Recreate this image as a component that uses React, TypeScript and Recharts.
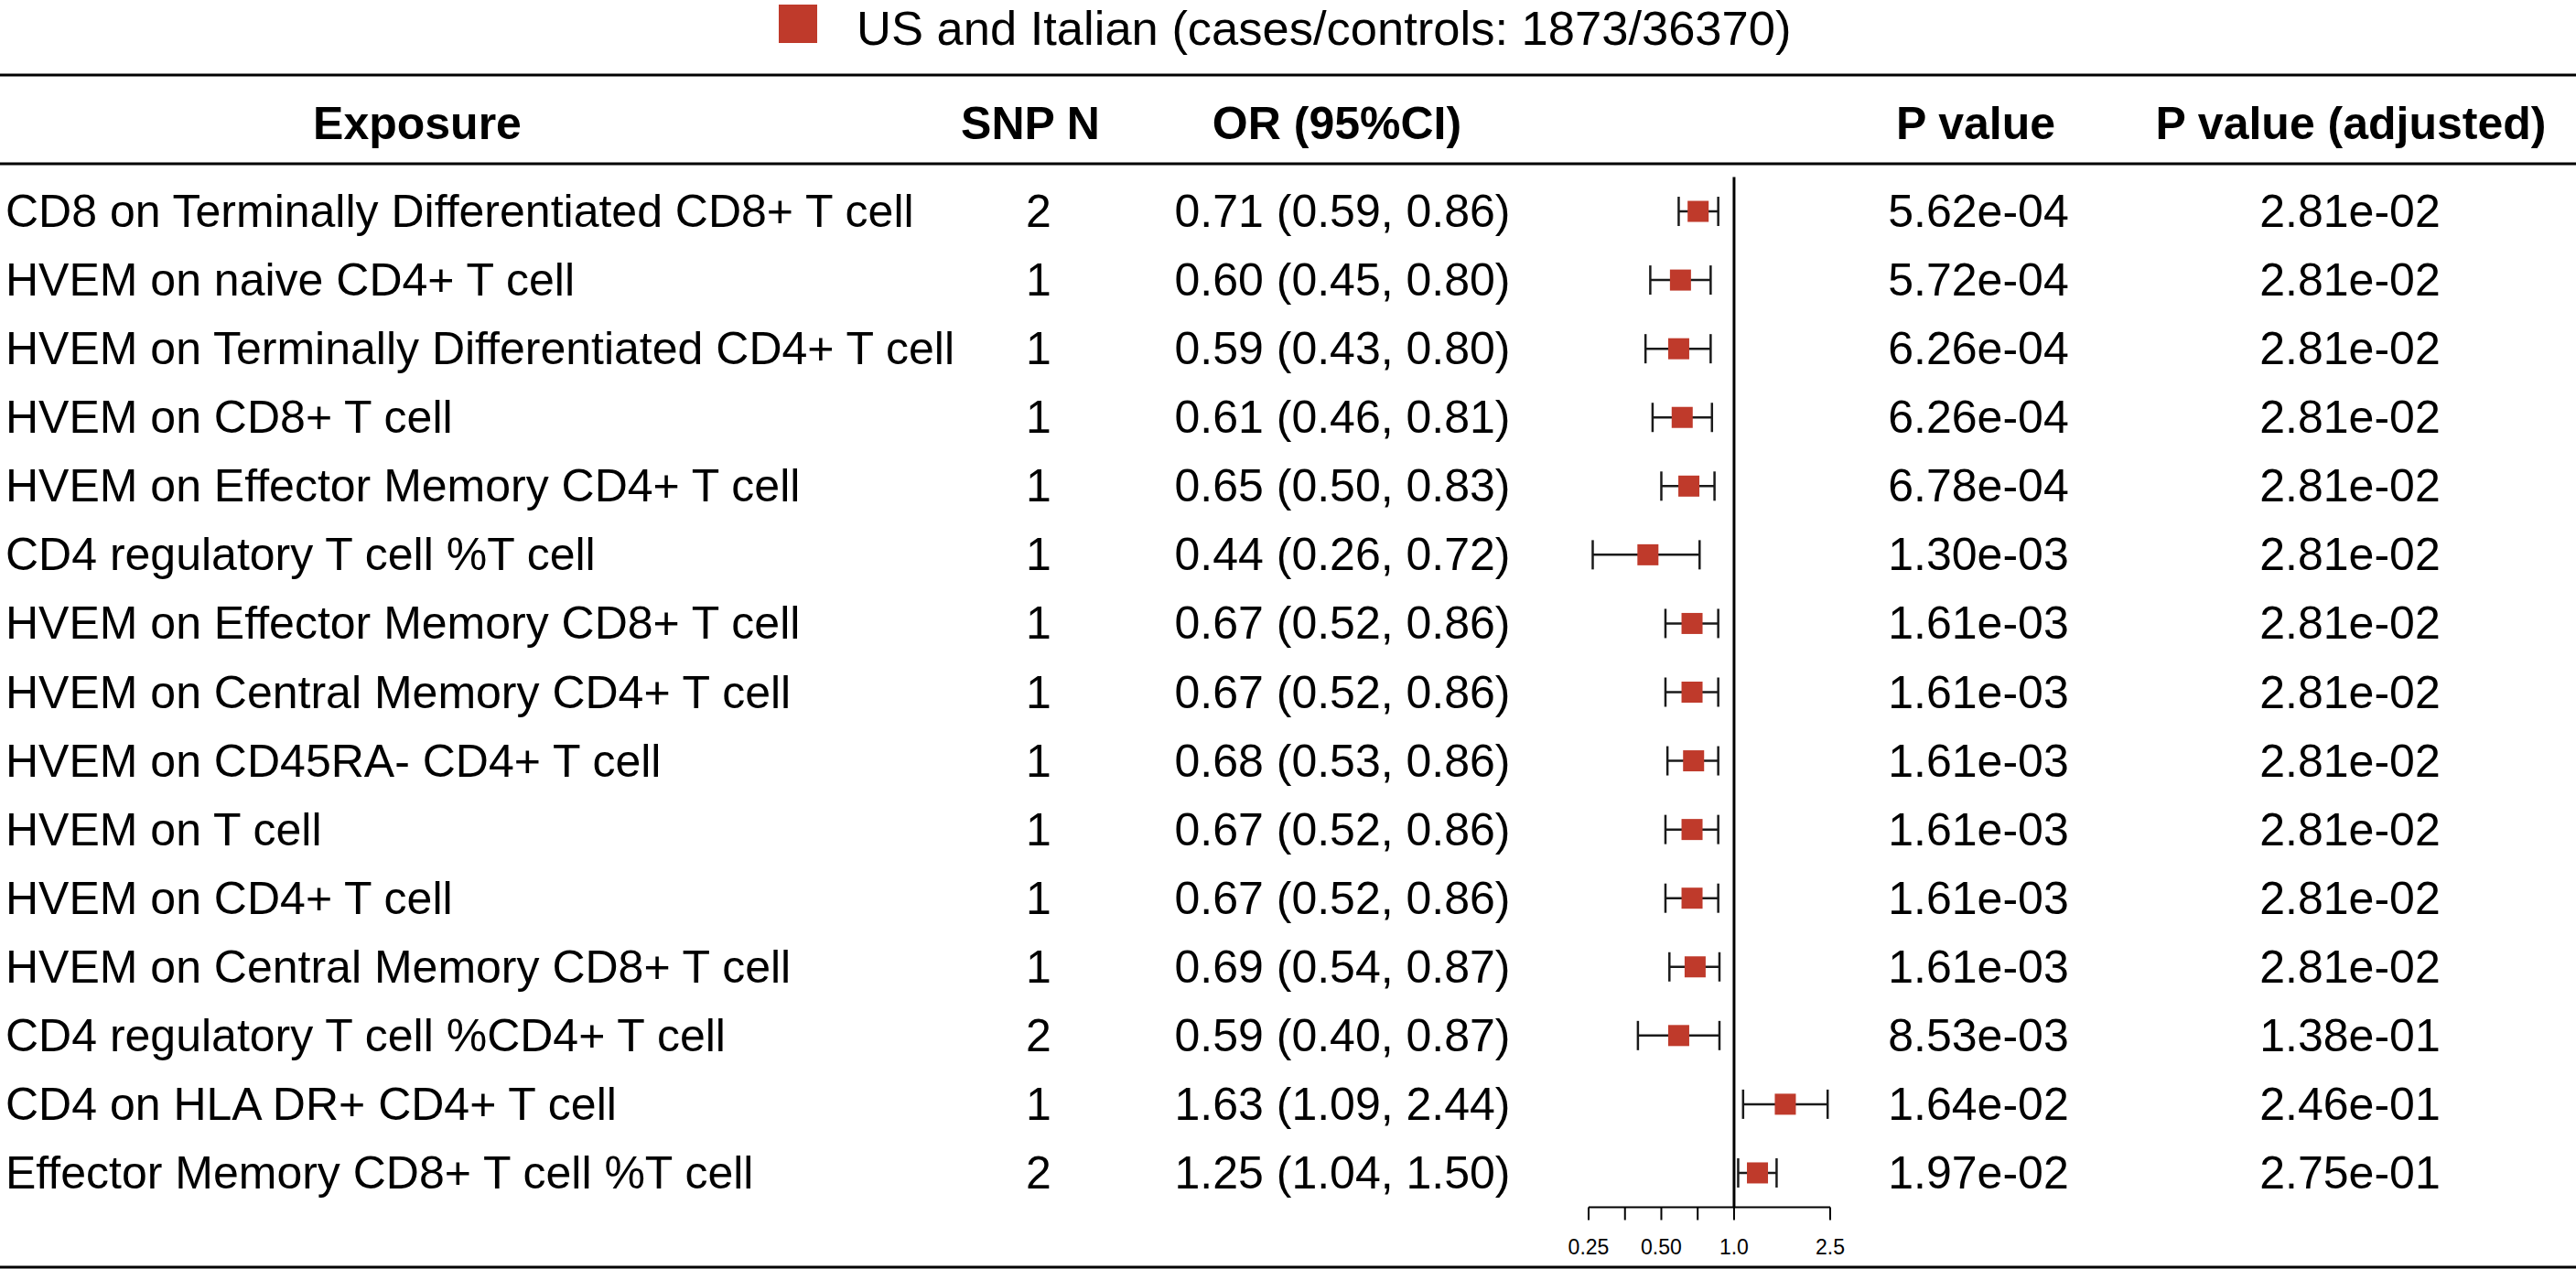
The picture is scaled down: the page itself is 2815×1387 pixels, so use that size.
import React from "react"
import {
  ScatterChart,
  Scatter,
  XAxis,
  YAxis,
  ErrorBar,
  ReferenceLine,
  Customized,
} from "recharts"

// Table rows (top to bottom)
const exposures = [
  "CD8 on Terminally Differentiated CD8+ T cell",
  "HVEM on naive CD4+ T cell",
  "HVEM on Terminally Differentiated CD4+ T cell",
  "HVEM on CD8+ T cell",
  "HVEM on Effector Memory CD4+ T cell",
  "CD4 regulatory T cell %T cell",
  "HVEM on Effector Memory CD8+ T cell",
  "HVEM on Central Memory CD4+ T cell",
  "HVEM on CD45RA- CD4+ T cell",
  "HVEM on T cell",
  "HVEM on CD4+ T cell",
  "HVEM on Central Memory CD8+ T cell",
  "CD4 regulatory T cell %CD4+ T cell",
  "CD4 on HLA DR+ CD4+ T cell",
  "Effector Memory CD8+ T cell %T cell",
]
const snpN = [2, 1, 1, 1, 1, 1, 1, 1, 1, 1, 1, 1, 2, 1, 2]
const orValues = [0.71, 0.6, 0.59, 0.61, 0.65, 0.44, 0.67, 0.67, 0.68, 0.67, 0.67, 0.69, 0.59, 1.63, 1.25]
const ciLow = [0.59, 0.45, 0.43, 0.46, 0.5, 0.26, 0.52, 0.52, 0.53, 0.52, 0.52, 0.54, 0.4, 1.09, 1.04]
const ciHigh = [0.86, 0.8, 0.8, 0.81, 0.83, 0.72, 0.86, 0.86, 0.86, 0.86, 0.86, 0.87, 0.87, 2.44, 1.5]
const pValues = [
  "5.62e-04", "5.72e-04", "6.26e-04", "6.26e-04", "6.78e-04", "1.30e-03", "1.61e-03", "1.61e-03",
  "1.61e-03", "1.61e-03", "1.61e-03", "1.61e-03", "8.53e-03", "1.64e-02", "1.97e-02",
]
const pAdjusted = [
  "2.81e-02", "2.81e-02", "2.81e-02", "2.81e-02", "2.81e-02", "2.81e-02", "2.81e-02", "2.81e-02",
  "2.81e-02", "2.81e-02", "2.81e-02", "2.81e-02", "1.38e-01", "2.46e-01", "2.75e-01",
]

// x axis (log scale)
const tickValues = [0.25, 0.3536, 0.5, 0.7071, 1, 2.5]
const tickLabels = ["0.25", "", "0.50", "", "1.0", "2.5"]

const seriesName = "US and Italian (cases/controls: 1873/36370)"
const headers = ["Exposure", "SNP N", "OR (95%CI)", "P value", "P value (adjusted)"]

const FONT = "'Liberation Sans', Arial, Helvetica, sans-serif"
const RED = "#BF3A2B"
const W = 2815
const H = 1387

const data = orValues.map((or, i) => ({
  row: i + 1,
  or,
  errX: [or - ciLow[i], ciHigh[i] - or],
}))

const fmt = (v: number) => v.toFixed(2)

function RowTick(props: any) {
  const { y, payload } = props
  const i = payload.value - 1
  if (i < 0 || i >= exposures.length) return null
  const by = y + 17
  return (
    <g fontFamily={FONT} fontSize={50} fill="#000">
      <text x={6} y={by} textAnchor="start" fill="#000">{exposures[i]}</text>
      <text x={1135} y={by} textAnchor="middle" fill="#000">{snpN[i]}</text>
      <text x={1467} y={by} textAnchor="middle" fill="#000">
        {`${fmt(orValues[i])} (${fmt(ciLow[i])}, ${fmt(ciHigh[i])})`}
      </text>
      <text x={2162} y={by} textAnchor="middle" fill="#000">{pValues[i]}</text>
      <text x={2568} y={by} textAnchor="middle" fill="#000">{pAdjusted[i]}</text>
    </g>
  )
}

function AxisTick(props: any) {
  const { x, y, index } = props
  return (
    <text x={x} y={y + 35} textAnchor="middle" fontFamily={FONT} fontSize={23} fill="#000">
      {tickLabels[index]}
    </text>
  )
}

function SquareDot(props: any) {
  const { cx, cy } = props
  return <rect x={cx - 11.5} y={cy - 11.5} width={23} height={23} fill={RED} />
}

function TableFrame() {
  const headerX = [456, 1126, 1461, 2159, 2569]
  return (
    <g fontFamily={FONT}>
      <rect x={851} y={5} width={42} height={42} fill={RED} />
      <text x={936} y={49} fontSize={52.5} fill="#000">{seriesName}</text>
      <line x1={0} x2={W} y1={82} y2={82} stroke="#000" strokeWidth={3} />
      {headers.map((h, i) => (
        <text key={h} x={headerX[i]} y={152} textAnchor="middle" fontSize={50} fontWeight="bold" fill="#000">
          {h}
        </text>
      ))}
      <line x1={0} x2={W} y1={179} y2={179} stroke="#000" strokeWidth={3} />
      <line x1={0} x2={W} y1={1385} y2={1385} stroke="#000" strokeWidth={3} />
    </g>
  )
}

export default function App() {
  return (
    <div style={{ position: "absolute", left: 0, top: 0, width: W, height: H, background: "#fff" }}>
      <ScatterChart width={W} height={H} margin={{ top: 193.5, right: 815, bottom: 7.5, left: 1735 }}>
        <XAxis
          type="number"
          dataKey="or"
          scale="log"
          domain={[0.25, 2.5]}
          ticks={tickValues}
          interval={0}
          height={60}
          tickSize={14}
          tickMargin={2}
          axisLine={{ stroke: "#000", strokeWidth: 2 }}
          tickLine={{ stroke: "#000", strokeWidth: 2 }}
          tick={<AxisTick />}
          allowDataOverflow
        />
        <YAxis
          type="number"
          dataKey="row"
          domain={[0.5, 15.5]}
          reversed
          ticks={exposures.map((_, i) => i + 1)}
          interval={0}
          width={1}
          axisLine={false}
          tickLine={false}
          tick={<RowTick />}
        />
        <ReferenceLine x={1} stroke="#000" strokeWidth={3} />
        <Scatter name={seriesName} data={data} shape={<SquareDot />} isAnimationActive={false}>
          <ErrorBar dataKey="errX" direction="x" width={16} stroke="#1a1a1a" strokeWidth={2.5} isAnimationActive={false} />
        </Scatter>
        <Customized component={<TableFrame />} />
      </ScatterChart>
    </div>
  )
}
